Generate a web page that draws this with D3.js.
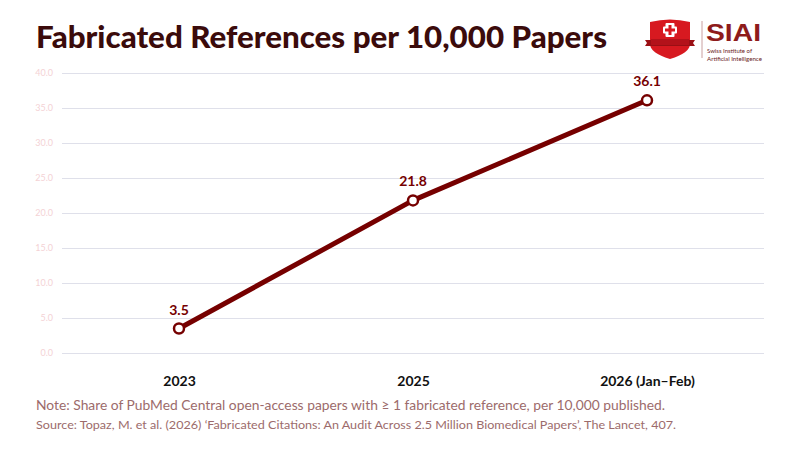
<!DOCTYPE html>
<html><head><meta charset="utf-8">
<script src="https://cdn.jsdelivr.net/npm/d3@7"></script>
<style>body{margin:0;background:#fff}svg{display:block}</style>
</head><body><svg id="c" width="800" height="450"></svg>
<script>
const categories = ["2023", "2025", "2026 (Jan–Feb)"];
const values = [3.5, 21.8, 36.1];
const yTicks = [0, 5, 10, 15, 20, 25, 30, 35, 40];
const titleText = "Fabricated References per 10,000 Papers";
const noteText = "Note: Share of PubMed Central open-access papers with ≥ 1 fabricated reference, per 10,000 published.";
const sourceText = "Source: Topaz, M. et al. (2026) ‘Fabricated Citations: An Audit Across 2.5 Million Biomedical Papers’, The Lancet, 407.";

const FONT = "'Source Sans Pro','Lato','Open Sans',sans-serif";
const svg = d3.select("#c");
const x = d3.scalePoint().domain(categories).range([62, 764]).padding(0.5);
const y = d3.scaleLinear().domain([0, 40]).range([353, 73]);
const red = "#760000";

// title
svg.append("text").attr("x", 36).attr("y", 48).text(titleText)
  .attr("font-family", FONT).attr("font-weight", 900).attr("font-size", 30)
  .attr("fill", "#3b0b0b").attr("textLength", 571).attr("lengthAdjust", "spacingAndGlyphs");

// grid
const gy = svg.append("g").attr("transform", "translate(62,0)")
  .call(d3.axisLeft(y).tickValues(yTicks).tickSize(-702).tickFormat(d3.format(".1f")).tickPadding(9));
gy.select(".domain").remove();
gy.selectAll(".tick line").attr("stroke", "#dfe0ea").attr("stroke-width", 1);
gy.selectAll(".tick text").attr("fill", "#f4d2d5").attr("font-size", 9).attr("font-family", FONT);

// x labels
const gx = svg.append("g").attr("transform", "translate(0,353)")
  .call(d3.axisBottom(x).tickSize(0).tickPadding(23));
gx.select(".domain").remove();
gx.selectAll(".tick text").attr("fill", "#111").attr("font-size", 14).attr("font-weight", 700).attr("font-family", FONT);

// line
const data = categories.map((c, i) => ({c, v: values[i]}));
svg.append("path").datum(data)
  .attr("d", d3.line().x(d => x(d.c)).y(d => y(d.v)))
  .attr("fill", "none").attr("stroke", red).attr("stroke-width", 5).attr("stroke-linejoin", "round");
svg.selectAll("circle.pt").data(data).join("circle").attr("class", "pt")
  .attr("cx", d => x(d.c)).attr("cy", d => y(d.v)).attr("r", 5)
  .attr("fill", "#fff").attr("stroke", red).attr("stroke-width", 2.5);
svg.selectAll("text.lbl").data(data).join("text").attr("class", "lbl")
  .attr("x", d => x(d.c)).attr("y", d => y(d.v) - 14).attr("text-anchor", "middle")
  .text(d => d.v.toFixed(1)).attr("font-family", FONT).attr("font-weight", 700)
  .attr("font-size", 14).attr("fill", red);

// notes
svg.append("text").attr("x", 36).attr("y", 410).text(noteText)
  .attr("font-family", FONT).attr("font-size", 13.5).attr("fill", "#9c6b6b")
  .attr("textLength", 629).attr("lengthAdjust", "spacingAndGlyphs");
svg.append("text").attr("x", 36).attr("y", 429).text(sourceText)
  .attr("font-family", FONT).attr("font-size", 11).attr("fill", "#9c6b6b")
  .attr("textLength", 640).attr("lengthAdjust", "spacingAndGlyphs");

// logo
const lg = svg.append("g");
lg.append("path").attr("d", "M650,22 Q670,17 690,22 L690,44 Q690,53 670,59 Q650,53 650,44 Z").attr("fill", "#d71920");
lg.append("rect").attr("x", 665.5).attr("y", 23).attr("width", 9).attr("height", 14).attr("fill", "#fff").attr("rx", 1);
lg.append("rect").attr("x", 663).attr("y", 26.5).attr("width", 14).attr("height", 7).attr("fill", "#fff").attr("rx", 1);
lg.append("rect").attr("x", 668.5).attr("y", 25).attr("width", 3).attr("height", 10).attr("fill", "#d71920");
lg.append("rect").attr("x", 665).attr("y", 28.5).attr("width", 10).attr("height", 3).attr("fill", "#d71920");
lg.append("path").attr("d", "M645,40 L695,40 L693,43 L695,46 L645,46 L647,43 Z").attr("fill", "#9b0f14");
lg.append("path").attr("d", "M651,39 L689,39 L689,45 L651,45 Z").attr("fill", "#b3121a");
lg.append("line").attr("x1", 702).attr("x2", 702).attr("y1", 21).attr("y2", 58).attr("stroke", "#c9a0a0").attr("stroke-width", 1);
lg.append("text").attr("x", 706).attr("y", 40.5).text("SIAI").attr("font-family", "'Liberation Sans',Arial,sans-serif")
  .attr("font-weight", 700).attr("font-size", 24).attr("fill", "#8e1b1b").attr("textLength", 55).attr("lengthAdjust", "spacingAndGlyphs");
lg.append("text").attr("x", 707).attr("y", 52.5).text("Swiss Institute of").attr("font-family", FONT)
  .attr("font-size", 6.5).attr("fill", "#6b1a1a").attr("textLength", 45).attr("lengthAdjust", "spacingAndGlyphs");
lg.append("text").attr("x", 707).attr("y", 60.5).text("Artificial Intelligence").attr("font-family", FONT)
  .attr("font-size", 6.5).attr("fill", "#6b1a1a").attr("textLength", 55).attr("lengthAdjust", "spacingAndGlyphs");
</script></body></html>
